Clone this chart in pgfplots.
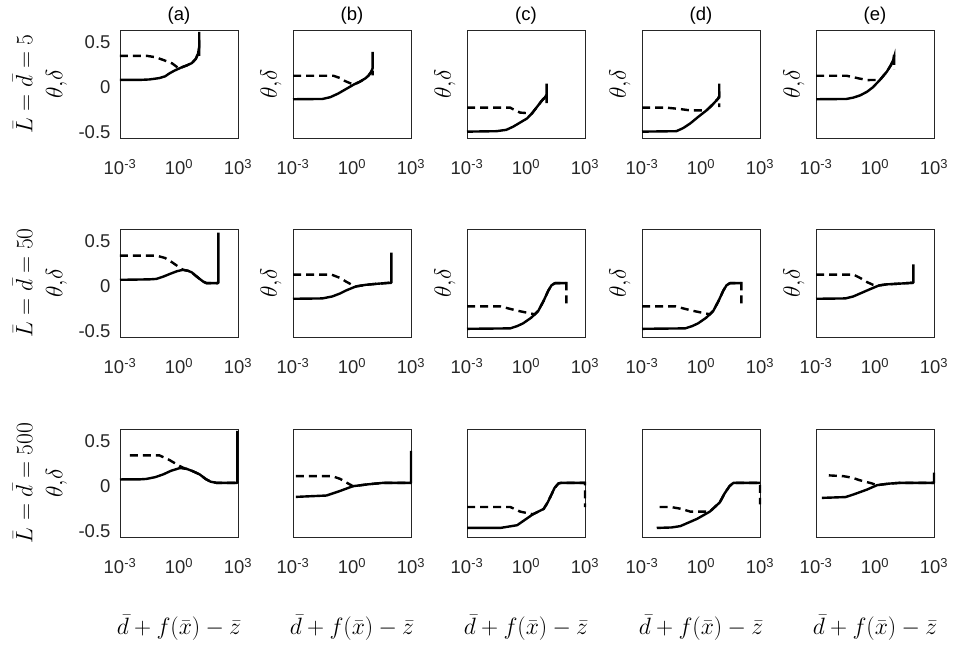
\documentclass[border=0pt]{standalone}
\usepackage{fontspec}
\setmainfont{Liberation Sans}
\usepackage{graphicx}
\usepackage{pgfplots}
\pgfplotsset{compat=1.18}

\definecolor{axgray}{RGB}{38,38,38}

\newcommand{\tickfont}{\fontsize{18.5}{22}\selectfont}
\newcommand{\mathfont}{\fontsize{20.74}{30}\selectfont}
% math labels, enlarged a little beyond the nearest font size
\newcommand{\ml}[1]{\scalebox{1.14}{$#1$}}
\newcommand{\td}{\ml{\theta{,}\delta}}

\pgfplotsset{
  every axis/.append style={
    scale only axis, width=118pt, height=108pt,
    anchor=south west,
    xmode=log, xmin=1e-3, xmax=1e3, ymin=-0.56, ymax=0.63,
    xtick={1e-3,1,1e3},
    xticklabels={10\textsuperscript{-3},10\textsuperscript{0},10\textsuperscript{3}},
    ytick={-0.5,0,0.5}, yticklabels={},
    major tick length=0pt, minor tick num=0,
    axis line style={axgray, line width=0.9pt},
    tick label style={font=\tickfont, text=axgray},
    xticklabel style={anchor=base, yshift=-37pt},
    clip=false,
    title style={at={(axis description cs:0.5,1.075)}, anchor=center, font=\tickfont},
    ylabel style={at={(axis description cs:-0.186,0.5)}, anchor=center, font=\mathfont, align=center},
    xlabel style={at={(axis description cs:0.5,-0.843)}, anchor=center, font=\mathfont},
  },
  leftbox/.style={
    yticklabels={-0.5,0,0.5},
    yticklabel style={anchor=east, xshift=-6pt},
    ylabel style={at={(axis description cs:-0.678,0.5)}},
  },
  thetaline/.style={black, line width=2.4pt, line join=round},
  deltaline/.style={black, line width=2.4pt, dash pattern=on 8pt off 5pt},
}

\begin{document}
\begin{tikzpicture}
\useasboundingbox (0,0) rectangle (955pt,650pt);

% ---------------- row 1: L = d = 5 ----------------
\begin{axis}[leftbox, at={(120pt,512pt)}, title={(a)}, ylabel={\ml{\bar{L}=\bar{d}=5}\\\td}]
  \addplot[deltaline] coordinates {(0.001,0.344)(0.0251,0.344)(0.0631,0.33)(0.158,0.30)(0.447,0.262)(1,0.205)(2.512,0.24)(4.467,0.265)(7.079,0.31)(9.333,0.37)(10.72,0.42)(10.72,0.29)};
  \addplot[thetaline] coordinates {(0.001,0.08)(0.01,0.08)(0.0316,0.085)(0.1,0.10)(0.2,0.12)(0.316,0.15)(0.56,0.18)(1,0.205)(1.6,0.225)(2.512,0.24)(4.467,0.265)(7.079,0.31)(9.333,0.37)(10.72,0.45)(10.72,0.61)};
\end{axis}

\begin{axis}[at={(293pt,512pt)}, title={(b)}, ylabel={\td}]
  \addplot[deltaline] coordinates {(0.001,0.126)(0.1122,0.126)(0.251,0.10)(0.447,0.067)(0.891,0.04)(1.259,0.03)(2.512,0.06)(5.012,0.10)(7.079,0.13)(9.55,0.17)(11.22,0.21)(11.22,0.13)};
  \addplot[thetaline] coordinates {(0.001,-0.133)(0.0316,-0.13)(0.0794,-0.11)(0.1995,-0.07)(0.501,-0.02)(1.259,0.03)(2.512,0.06)(5.012,0.10)(7.079,0.13)(9.55,0.17)(11.22,0.21)(11.22,0.39)};
\end{axis}

\begin{axis}[at={(467pt,512pt)}, title={(c)}, ylabel={\td}]
  \addplot[deltaline] coordinates {(0.001,-0.226)(0.158,-0.226)(0.282,-0.255)(0.501,-0.28)(1.995,-0.29)(3.548,-0.22)(6.31,-0.15)(9.333,-0.11)(11.22,-0.08)(11.22,-0.22)};
  \addplot[thetaline] coordinates {(0.001,-0.49)(0.0316,-0.485)(0.1,-0.47)(0.224,-0.435)(0.501,-0.39)(1.122,-0.345)(1.995,-0.29)(3.548,-0.22)(6.31,-0.15)(9.333,-0.11)(11.22,-0.08)(11.22,0.04)};
\end{axis}

\begin{axis}[at={(642pt,512pt)}, title={(d)}, ylabel={\td}]
  \addplot[deltaline] coordinates {(0.001,-0.226)(0.0178,-0.226)(0.0794,-0.24)(0.282,-0.256)(1.905,-0.256)(3.981,-0.19)(7.413,-0.126)(8.511,-0.10)(8.511,-0.22)};
  \addplot[thetaline] coordinates {(0.001,-0.49)(0.0562,-0.485)(0.1259,-0.45)(0.282,-0.40)(0.794,-0.32)(1.905,-0.256)(3.981,-0.19)(7.413,-0.126)(8.511,-0.10)(8.511,0.04)};
\end{axis}

\begin{axis}[at={(816pt,512pt)}, title={(e)}, ylabel={\td}]
  \addplot[deltaline] coordinates {(0.001,0.126)(0.0355,0.126)(0.1259,0.10)(0.398,0.078)(1.778,0.08)(3.981,0.17)(6.31,0.24)(8.511,0.30)(9.333,0.33)(9.333,0.19)};
  \addplot[thetaline] coordinates {(0.001,-0.133)(0.0355,-0.13)(0.0794,-0.115)(0.178,-0.09)(0.398,-0.05)(0.794,0.0)(1.778,0.08)(3.981,0.17)(6.31,0.24)(8.511,0.30)(9.333,0.356)};
\end{axis}

% ---------------- row 2: L = d = 50 ----------------
\begin{axis}[leftbox, at={(120pt,313pt)}, ylabel={\ml{\bar{L}=\bar{d}=50}\\\td}]
  \addplot[deltaline] coordinates {(0.001,0.337)(0.0708,0.337)(0.1995,0.31)(0.398,0.27)(0.794,0.225)(1.585,0.18)(2.818,0.17)(4.467,0.152)(7.079,0.115)(11.22,0.08)(17.78,0.048)(25.12,0.033)(79.43,0.033)(100,0.035)};
  \addplot[thetaline] coordinates {(0.001,0.07)(0.0316,0.075)(0.0708,0.08)(0.158,0.105)(0.355,0.136)(0.794,0.165)(1.585,0.18)(2.818,0.17)(4.467,0.152)(7.079,0.115)(11.22,0.08)(17.78,0.048)(25.12,0.033)(79.43,0.033)(100,0.035)(100,0.59)};
\end{axis}

\begin{axis}[at={(293pt,313pt)}, ylabel={\td}]
  \addplot[deltaline] coordinates {(0.001,0.128)(0.0891,0.128)(0.251,0.09)(0.501,0.05)(1,0.015)(1.585,-0.003)(5.012,0.015)(17.78,0.026)(79.43,0.037)(100,0.037)};
  \addplot[thetaline] coordinates {(0.001,-0.139)(0.0316,-0.135)(0.1,-0.113)(0.251,-0.08)(0.501,-0.047)(1.585,-0.003)(5.012,0.015)(17.78,0.026)(79.43,0.037)(100,0.037)(100,0.37)};
\end{axis}

\begin{axis}[at={(467pt,313pt)}, ylabel={\td}]
  \addplot[deltaline] coordinates {(0.001,-0.223)(0.0501,-0.223)(0.1259,-0.245)(0.355,-0.27)(2.818,-0.31)(4.266,-0.27)(7.943,-0.16)(13.49,-0.05)(19.95,0.01)(29.51,0.033)(112.2,0.033)(112.2,-0.22)};
  \addplot[thetaline] coordinates {(0.001,-0.47)(0.158,-0.465)(0.355,-0.44)(0.708,-0.41)(1.778,-0.35)(2.818,-0.31)(4.266,-0.27)(7.943,-0.16)(13.49,-0.05)(19.95,0.01)(29.51,0.033)(100,0.033)(112.2,0.033)};
\end{axis}

\begin{axis}[at={(642pt,313pt)}, ylabel={\td}]
  \addplot[deltaline] coordinates {(0.001,-0.223)(0.0501,-0.223)(0.1259,-0.245)(0.355,-0.27)(2.818,-0.31)(4.266,-0.27)(7.943,-0.16)(13.49,-0.05)(19.95,0.01)(29.51,0.033)(112.2,0.033)(112.2,-0.22)};
  \addplot[thetaline] coordinates {(0.001,-0.47)(0.158,-0.465)(0.355,-0.44)(0.708,-0.41)(1.778,-0.35)(2.818,-0.31)(4.266,-0.27)(7.943,-0.16)(13.49,-0.05)(19.95,0.01)(29.51,0.033)(100,0.033)(112.2,0.033)};
\end{axis}

\begin{axis}[at={(816pt,313pt)}, ylabel={\td}]
  \addplot[deltaline] coordinates {(0.001,0.128)(0.0794,0.128)(0.178,0.09)(0.398,0.044)(0.794,0.015)(1.585,0.008)(3.981,0.02)(12.59,0.026)(79.43,0.037)(89.13,0.037)};
  \addplot[thetaline] coordinates {(0.001,-0.139)(0.0316,-0.135)(0.0794,-0.113)(0.178,-0.08)(0.398,-0.047)(1.585,0.008)(3.981,0.02)(12.59,0.026)(79.43,0.037)(89.13,0.037)(89.13,0.24)};
\end{axis}

% ---------------- row 3: L = d = 500 ----------------
\begin{axis}[leftbox, at={(120pt,113pt)}, ylabel={\ml{\bar{L}=\bar{d}=500}\\\td}, xlabel={\ml{\bar{d}+f(\bar{x})-\bar{z}}}]
  \addplot[deltaline] coordinates {(0.00316,0.34)(0.1,0.34)(0.316,0.29)(1.122,0.22)(1.995,0.195)(2.512,0.19)(5.012,0.165)(11.22,0.13)(22.39,0.08)(39.81,0.05)(79.43,0.037)(933.3,0.037)};
  \addplot[thetaline] coordinates {(0.001,0.074)(0.01,0.075)(0.0224,0.08)(0.0631,0.10)(0.158,0.13)(0.398,0.17)(1.122,0.20)(2.512,0.19)(5.012,0.165)(11.22,0.13)(22.39,0.08)(39.81,0.05)(79.43,0.037)(933.3,0.037)(933.3,0.61)};
\end{axis}

\begin{axis}[at={(293pt,113pt)}, xlabel={\ml{\bar{d}+f(\bar{x})-\bar{z}}}]
  \addplot[deltaline] coordinates {(0.00141,0.11)(0.1,0.11)(0.251,0.08)(0.631,0.03)(1.122,0.0)(6.31,0.02)(39.81,0.037)(1000,0.037)};
  \addplot[thetaline] coordinates {(0.00141,-0.118)(0.0501,-0.103)(0.224,-0.056)(1.122,0.0)(6.31,0.02)(39.81,0.037)(1000,0.037)(1000,0.39)};
\end{axis}

\begin{axis}[at={(467pt,113pt)}, xlabel={\ml{\bar{d}+f(\bar{x})-\bar{z}}}]
  \addplot[deltaline] coordinates {(0.001,-0.229)(0.158,-0.229)(0.501,-0.28)(2.239,-0.31)(7.943,-0.25)(12.59,-0.18)(19.95,-0.09)(28.18,-0.02)(44.67,0.03)(63.1,0.037)(1000,0.037)(1000,-0.23)};
  \addplot[thetaline] coordinates {(0.001,-0.46)(0.0501,-0.46)(0.355,-0.43)(2.239,-0.31)(7.943,-0.25)(12.59,-0.18)(19.95,-0.09)(28.18,-0.02)(44.67,0.03)(63.1,0.037)(1000,0.037)};
\end{axis}

\begin{axis}[at={(642pt,113pt)}, xlabel={\ml{\bar{d}+f(\bar{x})-\bar{z}}}]
  \addplot[deltaline] coordinates {(0.00794,-0.229)(0.0282,-0.229)(0.1,-0.25)(0.282,-0.28)(2.818,-0.28)(8.913,-0.18)(15.85,-0.08)(28.18,0.0)(44.67,0.037)(1000,0.037)(1000,-0.2)};
  \addplot[thetaline] coordinates {(0.00562,-0.46)(0.0316,-0.455)(0.0891,-0.44)(0.631,-0.36)(2.818,-0.28)(8.913,-0.18)(15.85,-0.08)(28.18,0.0)(44.67,0.037)(1000,0.037)};
\end{axis}

\begin{axis}[at={(816pt,113pt)}, xlabel={\ml{\bar{d}+f(\bar{x})-\bar{z}}}]
  \addplot[deltaline] coordinates {(0.00447,0.119)(0.0251,0.11)(0.0708,0.093)(0.158,0.067)(0.708,0.03)(1.259,0.011)(5.012,0.028)(19.95,0.037)(1000,0.037)};
  \addplot[thetaline] coordinates {(0.002,-0.129)(0.0316,-0.12)(0.0794,-0.092)(0.398,-0.037)(1.259,0.011)(5.012,0.028)(19.95,0.037)(1000,0.037)(1000,0.15)};
\end{axis}

\end{tikzpicture}
\end{document}
